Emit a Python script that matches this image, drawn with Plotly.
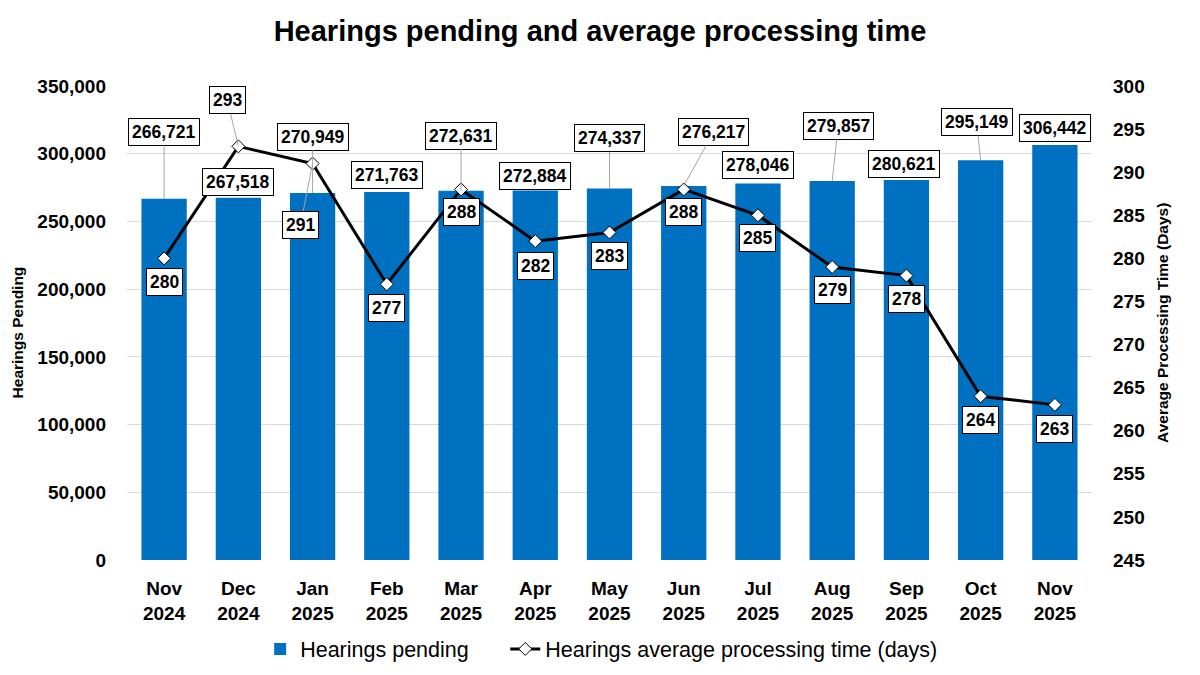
import plotly.graph_objects as go

months = ["Nov<br>2024", "Dec<br>2024", "Jan<br>2025", "Feb<br>2025", "Mar<br>2025", "Apr<br>2025",
          "May<br>2025", "Jun<br>2025", "Jul<br>2025", "Aug<br>2025", "Sep<br>2025", "Oct<br>2025",
          "Nov<br>2025"]
hearings_pending = [266721, 267518, 270949, 271763, 272631, 272884, 274337, 276217, 278046,
                    279857, 280621, 295149, 306442]
processing_days = [280, 293, 291, 277, 288, 282, 283, 288, 285, 279, 278, 264, 263]

# label placement (pixel offsets: dx, dy from data point; dy positive = downward), leader flag
bar_label_offsets = [(0, -67, True), (0, -16, False), (0, -56, True), (0, -17, False),
                     (0, -55, True), (0, -14, False), (0, -50, True), (30, -54, True),
                     (0, -18, False), (6, -55, True), (-2, -16, False), (-4, -38, True),
                     (0, -17, False)]
line_label_offsets = [(0, 24, False), (-11, -46, True), (-12, 61, True), (0, 24, False),
                      (0, 23, False), (0, 25, False), (0, 23, False), (0, 23, False),
                      (0, 23, False), (0, 23, False), (0, 23, False), (0, 24, False),
                      (0, 24, False)]

FONT = "Liberation Sans"
BLUE = "#0070C0"
FIG_W, FIG_H = 1184, 659  # page body has an 8px margin

fig = go.Figure()
fig.add_trace(go.Bar(
    x=months, y=hearings_pending, name="Hearings pending", legend="legend",
    marker=dict(color=BLUE, line=dict(width=0)),
))
fig.add_trace(go.Scatter(
    x=months, y=processing_days, name="Hearings average processing time (days)",
    yaxis="y2", mode="lines+markers", legend="legend2",
    line=dict(color="black", width=3),
    marker=dict(symbol="diamond", size=10, color="white", line=dict(color="black", width=1)),
))

annotations = []
label_font = dict(family=FONT, size=17.5, color="black", weight="bold")


def add_label(x, y, text, yref, off):
    dx, dy, leader = off
    common = dict(x=x, y=y, xref="x", yref=yref, text=text, font=label_font,
                  bgcolor="white", bordercolor="black", borderwidth=1, borderpad=3)
    if leader:
        annotations.append(dict(**common, showarrow=True, ax=dx, ay=dy, arrowhead=0,
                                arrowwidth=1, arrowcolor="#a6a6a6", standoff=0))
    else:
        annotations.append(dict(**common, showarrow=False, xshift=dx, yshift=-dy))


for m, v, off in zip(months, hearings_pending, bar_label_offsets):
    add_label(m, v, f"{v:,}", "y", off)
for m, v, off in zip(months, processing_days, line_label_offsets):
    add_label(m, v, f"{v}", "y2", off)

annotations.append(dict(text="Hearings Pending", xref="paper", yref="paper",
                        x=-0.113, y=0.48, textangle=-90, showarrow=False,
                        xanchor="center", yanchor="middle",
                        font=dict(family=FONT, size=15.5, color="black", weight="bold")))
annotations.append(dict(text="Average Processing Time (Days)", xref="paper", yref="paper",
                        x=1.0725, y=0.5, textangle=-90, showarrow=False,
                        xanchor="center", yanchor="middle",
                        font=dict(family=FONT, size=15.5, color="black", weight="bold")))

tick_font = dict(family=FONT, size=19, color="black", weight="bold")
legend_common = dict(orientation="h", xanchor="left", y=-0.1876, yanchor="middle",
                     font=dict(family=FONT, size=21.5, color="black"), itemwidth=30,
                     bgcolor="rgba(0,0,0,0)")

fig.update_layout(
    width=FIG_W, height=FIG_H,
    margin=dict(l=119, r=100, t=77.5, b=107, autoexpand=False),
    paper_bgcolor="white", plot_bgcolor="white",
    title=dict(text="Hearings pending and average processing time",
               x=0.5, xanchor="center", y=1 - 23 / FIG_H, yanchor="middle",
               font=dict(family=FONT, size=29, color="black", weight="bold")),
    bargap=0.39,
    showlegend=True,
    legend=dict(x=0.138, **legend_common),
    legend2=dict(x=0.392, **legend_common),
    xaxis=dict(type="category", range=[-0.5, 12.5], showgrid=False, showline=False,
               zeroline=False, tickfont=tick_font, ticks="", ticklabelstandoff=15),
    yaxis=dict(range=[0, 350000], dtick=50000, tickformat=",", showgrid=True,
               gridcolor="#d9d9d9", gridwidth=1, zeroline=False, showline=False,
               tickfont=tick_font, ticklabelstandoff=20),
    yaxis2=dict(range=[245, 300], dtick=5, overlaying="y", side="right", showgrid=False,
                zeroline=False, showline=False, tickfont=tick_font, ticklabelstandoff=20),
    annotations=annotations,
    font=dict(family=FONT, color="black"),
)

fig.write_html("out.html")
